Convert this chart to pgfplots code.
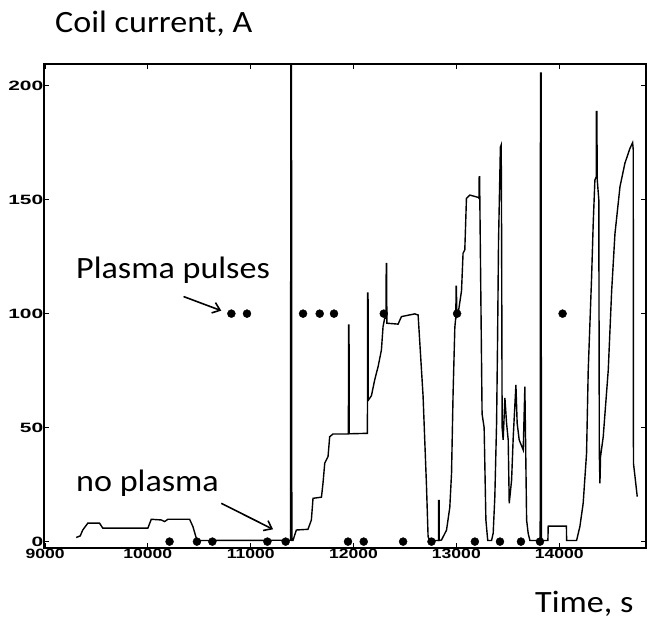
\documentclass[border=0pt]{standalone}
\usepackage{pgfplots}
\pgfplotsset{compat=1.18}
\usepackage{fontspec}
\setmainfont{Carlito}
\newfontfamily\tickfont{Liberation Sans Bold}
\usetikzlibrary{arrows.meta}
\begin{document}
\begin{tikzpicture}
\useasboundingbox (0pt,0pt) rectangle (647pt,622pt);
\begin{axis}[
  at={(44pt,74pt)}, anchor=south west,
  scale only axis, width=602pt, height=484pt,
  xmin=8990, xmax=14844, ymin=-2.8, ymax=209.5,
  xtick={9000,10000,11000,12000,13000,14000},
  ytick={0,50,100,150,200},
  scaled ticks=false,
  tick align=inside, major tick length=5pt,
  tick style={black, line width=1.2pt},
  axis line style={black, line width=1.6pt},
  /pgf/number format/1000 sep={},
  /pgf/number format/assume math mode=true,
  xticklabel style={font=\tickfont\fontsize{13.5}{15}\selectfont, xscale=1.3, yshift=2pt},
  yticklabel style={font=\tickfont\fontsize{13.5}{15}\selectfont, xscale=1.55, xshift=3pt},
  clip=true,
]
\addplot[black, line width=1.4pt] coordinates {
(9303,1.8) (9342,2.5) (9367,5.1) (9416,8.1) (9530,8.1) (9562,5.9) (10000,5.9)
(10033,9.8) (10130,9.5) (10163,8.8) (10195,9.8) (10406,9.8) (10438,6.6) (10471,1.5)
(10500,0.5) (11380,0.6) (11388,0.6) (11390,240) (11396,240) (11400,0.5) (11411,0.5)
(11444,5.1) (11557,5.4) (11590,9.5) (11606,19) (11688,19.5) (11703,25.6) (11720,34.4)
(11752,37.3) (11768,46) (11800,47.2) (11950,47.2) (11952,95) (11956,95) (11958,47.3)
(12135,47.5) (12137,109) (12141,109) (12143,62) (12174,64) (12206,71) (12239,76.8)
(12271,84) (12287,94.3) (12303,98) (12316,98) (12318,122) (12322,122) (12324,95.8)
(12433,95.4) (12466,98.7) (12596,99.9) (12628,99.4) (12676,64) (12709,25) (12725,2.2)
(12740,0.5) (12826,0.5) (12828,18) (12832,18) (12834,0.5) (12855,0.7) (12904,5)
(12936,15) (12953,30) (12968,65) (12985,94) (12995,98.7) (12997,112) (13001,112)
(13003,98.7) (13017,100) (13050,110) (13065,126.5) (13082,128) (13098,150.6) (13131,152)
(13212,151) (13220,150.6) (13222,160) (13226,160) (13228,150.6) (13250,56) (13270,50)
(13287,9.5) (13305,0.5) (13342,0.5) (13358,3.7) (13374,19.7) (13391,52) (13400,86)
(13410,132) (13428,173) (13436,174) (13440,132) (13445,50) (13455,44.6) (13472,63)
(13488,52) (13504,44.6) (13514,16.8) (13537,27) (13553,46) (13579,68.7) (13591,52)
(13611,44.6) (13650,40.2) (13666,68) (13683,9.5) (13698,3.7) (13715,0.5) (13815,0.5)
(13818,205.5) (13824,205.5) (13827,0.5) (13890,0.5) (13893,6.8) (14070,6.8) (14072,0.5)
(14169,0.5) (14201,6.6) (14233,16.8) (14266,38.8) (14282,75) (14315,116) (14331,140)
(14347,158.6) (14360,160) (14362,188.6) (14366,188.6) (14370,158.6) (14385,150)
(14390,38.8) (14396,25.6) (14402,37.3) (14428,46) (14477,75.3) (14510,110) (14542,135)
(14591,155.7) (14639,166) (14688,172.5) (14714,175) (14720,171.8) (14722,34.4)
(14737,28.5) (14759,19.7)
};
\addplot[only marks, mark=*, mark size=4pt, black] coordinates {
(10812,100) (10964,100) (11509,100) (11671,100) (11810,100) (12294,100) (13007,100) (14033,100)
};
\addplot[only marks, mark=*, mark size=4pt, black] coordinates {
(10211,0) (10477,0) (10627,0) (11162,0) (11340,0) (11946,0) (12099,0) (12482,0)
(12758,0) (13180,0) (13424,0) (13628,0) (13813,0)
};
\draw[line width=1.6pt, -{Straight Barb[length=7pt, width=11pt]}] (axis cs:10347,107.5) -- (axis cs:10714,101.3);
\draw[line width=1.6pt, -{Straight Barb[length=7pt, width=11pt]}] (axis cs:10714,16.8) -- (axis cs:11217,5.4);
\end{axis}
\node[anchor=base west, inner sep=0, xscale=1.1, font=\fontsize{31}{35}\selectfont] at (55pt,589pt) {Coil current, A};
\node[anchor=base west, inner sep=0, xscale=1.1, font=\fontsize{31}{35}\selectfont] at (535pt,10pt) {Time, s};
\node[anchor=base west, inner sep=0, xscale=1.1, font=\fontsize{31}{35}\selectfont] at (76pt,344pt) {Plasma pulses};
\node[anchor=base west, inner sep=0, xscale=1.1, font=\fontsize{31}{35}\selectfont] at (76pt,130.3pt) {no plasma};
\end{tikzpicture}
\end{document}
